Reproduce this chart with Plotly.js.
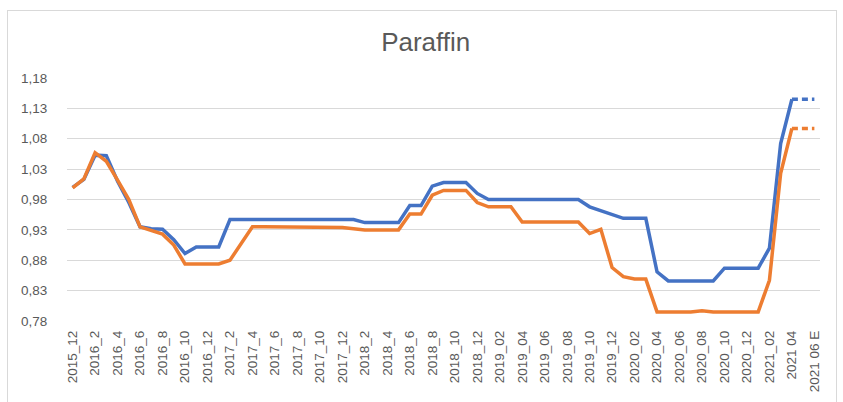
<!DOCTYPE html>
<html>
<head>
<meta charset="utf-8">
<script src="https://cdn.plot.ly/plotly-3.0.1.min.js"></script>
<style>
html, body { margin: 0; padding: 0; background: #ffffff; }
#wrap { position: relative; width: 843px; height: 402px; overflow: hidden; }
#chart { position: absolute; left: 0; top: 0; width: 843px; height: 402px; }
#frame { position: absolute; left: 7px; top: 10px; width: 830px; height: 400px;
  border: 1px solid #D9D9D9; pointer-events: none; box-sizing: border-box; }
</style>
</head>
<body>
<div id="wrap">
  <div id="chart"></div>
  <div id="frame"></div>
</div>
<script>
// ---- data ----
const categories = [
  "2015_12",
  "2016_1","2016_2","2016_3","2016_4","2016_5","2016_6","2016_7","2016_8","2016_9","2016_10","2016_11","2016_12",
  "2017_1","2017_2","2017_3","2017_4","2017_5","2017_6","2017_7","2017_8","2017_9","2017_10","2017_11","2017_12",
  "2018_1","2018_2","2018_3","2018_4","2018_5","2018_6","2018_7","2018_8","2018_9","2018_10","2018_11","2018_12",
  "2019_01","2019_02","2019_03","2019_04","2019_05","2019_06","2019_07","2019_08","2019_09","2019_10","2019_11","2019_12",
  "2020_01","2020_02","2020_03","2020_04","2020_05","2020_06","2020_07","2020_08","2020_09","2020_10","2020_11","2020_12",
  "2021_01","2021_02","2021_03","2021 04","2021 05","2021 06 E"
];

const blueValues = [
  1.000,
  1.013,1.053,1.052,1.010,0.975,0.935,0.932,0.931,0.914,0.891,0.902,0.902,
  0.902,0.947,0.947,0.947,0.947,0.947,0.947,0.947,0.947,0.947,0.947,0.947,
  0.947,0.942,0.942,0.942,0.942,0.970,0.970,1.002,1.008,1.008,1.008,0.990,
  0.980,0.980,0.980,0.980,0.980,0.980,0.980,0.980,0.980,0.968,0.962,0.955,
  0.949,0.949,0.949,0.861,0.846,0.846,0.846,0.846,0.846,0.867,0.867,0.867,
  0.867,0.900,1.072,1.145,1.145,1.145
];

const orangeValues = [
  0.999,
  1.014,1.057,1.043,1.012,0.980,0.935,0.929,0.923,0.905,0.874,0.874,0.874,
  0.874,0.880,0.908,0.935,0.935,0.935,0.935,0.935,0.935,0.935,0.935,0.934,
  0.932,0.930,0.930,0.930,0.930,0.956,0.956,0.987,0.995,0.995,0.995,0.975,
  0.968,0.968,0.968,0.943,0.943,0.943,0.943,0.943,0.943,0.924,0.931,0.868,
  0.853,0.849,0.849,0.795,0.795,0.795,0.795,0.797,0.795,0.795,0.795,0.795,
  0.795,0.847,1.023,1.097,1.097,1.097
];

const lastActualIndex = 64; // "2021 04"; after that the estimate is dotted

const tickLabels = ["2015_12","2016_2","2016_4","2016_6","2016_8","2016_10","2016_12",
  "2017_2","2017_4","2017_6","2017_8","2017_10","2017_12",
  "2018_2","2018_4","2018_6","2018_8","2018_10","2018_12",
  "2019_02","2019_04","2019_06","2019_08","2019_10","2019_12",
  "2020_02","2020_04","2020_06","2020_08","2020_10","2020_12",
  "2021_02","2021 04","2021 06 E"];

const yTicks = [0.78, 0.83, 0.88, 0.93, 0.98, 1.03, 1.08, 1.13, 1.18];

// ---- build traces ----
const BLUE = "#4472C4", ORANGE = "#ED7D31";
function solidPart(vals) { return vals.map((v, i) => i <= lastActualIndex ? v : null); }
function estPart(vals)   { return vals.map((v, i) => i >= lastActualIndex ? v : null); }

const traces = [
  { x: categories, y: solidPart(blueValues), type: "scatter", mode: "lines",
    line: { color: BLUE, width: 3.5 }, hoverinfo: "skip" },
  { x: categories, y: solidPart(orangeValues), type: "scatter", mode: "lines",
    line: { color: ORANGE, width: 3.5 }, hoverinfo: "skip" },
  { x: categories, y: estPart(blueValues), type: "scatter", mode: "lines",
    line: { color: BLUE, width: 3.5, dash: "6px,4px" }, hoverinfo: "skip" },
  { x: categories, y: estPart(orangeValues), type: "scatter", mode: "lines",
    line: { color: ORANGE, width: 3.5, dash: "6px,4px" }, hoverinfo: "skip" }
];

const layout = {
  width: 843, height: 402,
  margin: { l: 67, r: 23, t: 78, b: 81 },
  paper_bgcolor: "rgba(0,0,0,0)",
  plot_bgcolor: "#ffffff",
  showlegend: false,
  separators: ",.",
  font: { family: "Liberation Sans, Arial, sans-serif", color: "#595959", size: 13 },
  title: { text: "Paraffin", x: 0.505, xref: "container", xanchor: "center", y: 0.895, yanchor: "middle",
           font: { size: 26, color: "#595959", family: "Liberation Sans, Arial, sans-serif" } },
  xaxis: {
    type: "category",
    categoryorder: "array", categoryarray: categories,
    range: [-0.5, categories.length - 0.5],
    tickmode: "array", tickvals: tickLabels, ticktext: tickLabels,
    tickangle: -90,
    tickfont: { size: 13.5, color: "#595959" },
    showgrid: false, zeroline: false, showline: false, ticks: "",
    ticklabelstandoff: 6,
    fixedrange: true
  },
  yaxis: {
    range: [0.78, 1.18],
    tickmode: "array", tickvals: yTicks, tickformat: ".2f",
    tickfont: { size: 13.5, color: "#595959" },
    showgrid: true, gridcolor: "#D9D9D9", gridwidth: 1,
    zeroline: false, showline: false,
    ticks: "outside", ticklen: 16, tickcolor: "rgba(0,0,0,0)",
    fixedrange: true
  }
};

Plotly.newPlot("chart", traces, layout, { displayModeBar: false, staticPlot: true });
</script>
</body>
</html>
